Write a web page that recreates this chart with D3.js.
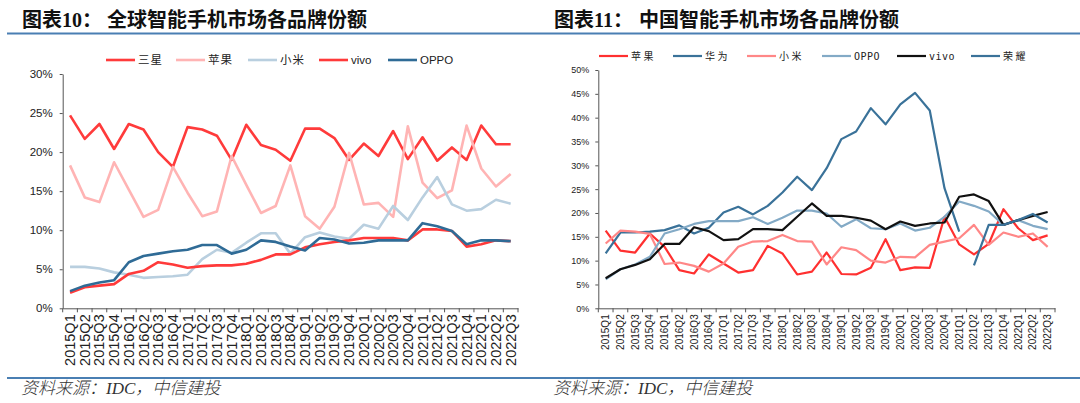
<!DOCTYPE html>
<html>
<head>
<meta charset="utf-8">
<script src="https://cdn.jsdelivr.net/npm/d3@7/dist/d3.min.js"></script>
<style>
  body { margin:0; background:#fff; }
  svg { display:block; }
</style>
</head>
<body>
<svg id="chart"></svg>
<script>
// quarters shared by both charts
var quarters = ["2015Q1","2015Q2","2015Q3","2015Q4","2016Q1","2016Q2","2016Q3","2016Q4",
  "2017Q1","2017Q2","2017Q3","2017Q4","2018Q1","2018Q2","2018Q3","2018Q4",
  "2019Q1","2019Q2","2019Q3","2019Q4","2020Q1","2020Q2","2020Q3","2020Q4",
  "2021Q1","2021Q2","2021Q3","2021Q4","2022Q1","2022Q2","2022Q3"];

// global share (%)
var gSamsung = [24.7,21.7,23.6,20.4,23.6,22.9,20.0,18.1,23.2,22.9,22.1,19.0,23.5,20.9,20.3,18.9,
  23.0,23.0,21.8,19.0,21.1,19.5,22.7,19.1,21.9,18.9,20.6,19.0,23.4,21.0,21.0];
var gApple = [18.3,14.2,13.6,18.7,15.2,11.7,12.6,18.1,14.8,11.8,12.4,19.5,15.8,12.2,13.1,18.3,
  11.8,10.2,13.0,19.9,13.3,13.5,11.7,23.3,16.1,14.1,15.1,23.4,17.9,15.6,17.2];
var gXiaomi = [5.3,5.3,5.1,4.6,4.3,3.9,4.0,4.1,4.3,6.3,7.5,7.1,8.4,9.6,9.6,7.0,
  9.1,9.7,9.2,8.9,10.7,10.2,13.1,11.3,14.2,16.8,13.3,12.5,12.7,13.9,13.4];
var gVivo = [2.0,2.7,2.9,3.1,4.4,4.8,5.9,5.6,5.2,5.4,5.5,5.5,5.7,6.2,6.9,6.9,
  7.8,8.2,8.5,8.7,9.0,9.0,9.0,8.7,10.1,10.1,9.9,7.9,8.2,8.7,8.6];
var gOppo = [2.2,2.9,3.3,3.6,5.9,6.7,7.0,7.3,7.5,8.1,8.1,7.0,7.5,8.7,8.5,7.9,
  7.4,9.0,8.8,8.3,8.4,8.7,8.7,8.7,10.9,10.5,9.9,8.2,8.7,8.7,8.6];

// China share (%)
var cApple = [16.3,12.1,11.7,15.7,12.9,8.0,7.3,11.3,9.4,7.5,8.0,13.1,11.5,7.1,7.7,11.7,
  7.2,7.1,8.5,14.5,8.0,8.6,8.5,19.2,13.4,11.3,13.5,20.8,16.8,14.3,15.3];
var cHuawei = [11.5,15.9,15.9,16.1,16.4,17.4,15.7,16.9,20.1,21.3,19.7,21.5,24.3,27.6,24.8,29.4,
  35.5,37.1,42.0,38.6,42.8,45.2,41.5,25.2,16.1,null,null,null,null,null,null];
var cXiaomi = [13.6,16.3,16.1,15.6,9.3,9.6,8.9,7.7,9.4,12.9,14.0,14.1,15.4,14.1,14.0,9.2,
  12.8,12.2,10.0,9.6,10.8,10.7,13.3,14.0,14.7,17.5,13.3,15.9,15.0,15.7,12.9];
var cOppo = [6.1,8.2,9.2,10.8,15.7,16.6,17.7,18.3,18.3,18.3,19.1,17.7,19.0,20.5,20.5,19.9,
  17.1,18.7,16.8,16.6,17.8,16.3,16.9,19.2,22.4,21.5,20.3,17.5,18.5,17.3,16.6];
var cVivo = [6.3,8.2,9.1,10.3,13.5,13.5,17.0,16.2,14.3,14.5,16.6,16.6,16.4,19.2,22.0,19.4,
  19.4,19.0,18.4,16.6,18.2,17.3,17.8,18.0,23.4,23.9,22.5,17.5,18.5,19.4,20.2];
var cHonor = [null,null,null,null,null,null,null,null,null,null,null,null,null,null,null,null,
  null,null,null,null,null,null,null,null,null,9.0,17.5,17.5,18.5,19.8,18.0];

var leftTicks = [0,5,10,15,20,25,30];
var rightTicks = [0,5,10,15,20,25,30,35,40,45,50];

var svg = d3.select("#chart").attr("width",1080).attr("height",403);

var drawPanel = function(p)
{
    var xScale = d3.scaleBand()
        .domain(quarters)
        .range([p.left,p.right])
        .padding(0);
    var yScale = d3.scaleLinear()
        .domain([0,p.max])
        .range([p.bottom,p.top]);

    var g = svg.append("g");

    // x axis: labels at band centers, ticks at band edges
    var xAxis = d3.axisBottom(xScale).tickSize(0).tickSizeOuter(0);
    var xa = g.append("g")
        .attr("transform","translate(0,"+p.bottom+")")
        .call(xAxis);
    xa.select(".domain").attr("stroke","#555").attr("stroke-width",1);
    xa.selectAll(".tick text")
        .attr("transform","rotate(-90)")
        .attr("text-anchor","end")
        .attr("x",-6)
        .attr("y",0)
        .attr("dy","0.35em")
        .attr("font-size",p.xFont)
        .attr("font-family","Liberation Sans, Arial, sans-serif")
        .attr("fill","#222");
    var edges = quarters.map(function(q){ return xScale(q); }).concat([p.right]);
    g.selectAll("line.xt").data(edges).enter().append("line")
        .attr("x1",function(d){return d;}).attr("x2",function(d){return d;})
        .attr("y1",p.bottom).attr("y2",p.bottom+4)
        .attr("stroke","#555");

    var yAxis = d3.axisLeft(yScale)
        .tickValues(p.ticks)
        .tickFormat(function(d){ return d+"%"; })
        .tickSize(3).tickSizeOuter(0).tickPadding(p.yPad);
    var ya = g.append("g")
        .attr("transform","translate("+p.left+",0)")
        .call(yAxis);
    ya.select(".domain").attr("stroke","#555");
    ya.selectAll(".tick line").attr("stroke","#555");
    ya.selectAll(".tick text")
        .attr("font-size",p.yFont)
        .attr("font-family","Liberation Sans, Arial, sans-serif")
        .attr("fill","#222");

    var lineGen = d3.line()
        .defined(function(d){ return d != null; })
        .x(function(d,i){ return xScale(quarters[i]) + xScale.bandwidth()/2; })
        .y(function(d){ return yScale(d); });

    p.series.forEach(function(s)
    {
        g.append("path")
            .datum(s.values)
            .attr("fill","none")
            .attr("stroke",s.color)
            .attr("stroke-width",p.lineW)
            .attr("stroke-linejoin","round")
            .attr("d",lineGen);
    });

    // legend
    var leg = g.append("g");
    p.series.forEach(function(s,i)
    {
        var lx = p.legendX[i];
        leg.append("line")
            .attr("x1",lx).attr("x2",lx+p.legendLen)
            .attr("y1",p.legendY).attr("y2",p.legendY)
            .attr("stroke",s.color).attr("stroke-width",p.lineW);
        leg.append("text")
            .text(s.name)
            .attr("x",lx+p.legendLen+3)
            .attr("y",p.legendY)
            .attr("dy","0.35em")
            .attr("font-size",p.legFont)
            .attr("letter-spacing",/[a-zA-Z]/.test(s.name) ? p.legSpLat : p.legSpCjk)
            .attr("font-family",p.legFamily)
            .attr("fill","#222");
    });

    // title, rules, source
    var t = g.append("text")
        .attr("y",27)
        .attr("font-size",20)
        .attr("font-weight","bold")
        .attr("fill","#111");
    t.append("tspan").attr("x",p.titleX).attr("font-family","Noto Sans CJK SC").text("图表");
    t.append("tspan").attr("font-family","Liberation Serif, serif").text(p.num);
    t.append("tspan").attr("font-family","Noto Sans CJK SC").text("：");
    t.append("tspan").attr("x",p.titleX+85).attr("font-family","Noto Sans CJK SC").text(p.title);

    g.append("line").attr("x1",p.ruleL).attr("x2",p.ruleR).attr("y1",33.5).attr("y2",33.5)
        .attr("stroke","#4a7fb3").attr("stroke-width",2);
    g.append("line").attr("x1",p.ruleL).attr("x2",p.ruleR).attr("y1",378).attr("y2",378)
        .attr("stroke","#4a7fb3").attr("stroke-width",2);

    var src = g.append("text")
        .attr("x",p.titleX-1).attr("y",394)
        .attr("font-size",17)
        .attr("font-style","italic")
        .attr("fill","#333");
    src.append("tspan").attr("font-family","Noto Sans CJK SC").attr("font-weight",300).text("资料来源：");
    src.append("tspan").attr("font-family","Liberation Serif, serif").text("IDC");
    src.append("tspan").attr("font-family","Noto Sans CJK SC").attr("font-weight",300).text("，中信建投");
};

drawPanel({
    left:62.7, right:518, top:74, bottom:308.3, max:30,
    ticks:leftTicks, xFont:14.5, yFont:11.5, yPad:7, lineW:2.6,
    series:[
        {name:"三星", values:gSamsung, color:"#ff3b3b"},
        {name:"苹果", values:gApple, color:"#ffb4b4"},
        {name:"小米", values:gXiaomi, color:"#b9cfdf"},
        {name:"vivo", values:gVivo, color:"#ff3a3a"},
        {name:"OPPO", values:gOppo, color:"#2f6b96"}
    ],
    legendX:[106,176,248,319,388], legendLen:29, legendY:60,
    legFont:11.5, legSpLat:0, legSpCjk:1, legFamily:"Liberation Sans, Noto Sans CJK SC",
    titleX:22, num:"10", title:"全球智能手机市场各品牌份额", ruleL:7, ruleR:540
});

drawPanel({
    left:598.3, right:1055, top:70, bottom:308.3, max:50,
    ticks:rightTicks, xFont:10, yFont:9, yPad:6, lineW:2.2,
    series:[
        {name:"苹果", values:cApple, color:"#ff3030"},
        {name:"华为", values:cHuawei, color:"#3a7299"},
        {name:"小米", values:cXiaomi, color:"#ff8787"},
        {name:"OPPO", values:cOppo, color:"#83aac6"},
        {name:"vivo", values:cVivo, color:"#111111"},
        {name:"荣耀", values:cHonor, color:"#3a7299"}
    ],
    legendX:[599,673,747,822,897,971], legendLen:29, legendY:56,
    legFont:10, legSpLat:0.5, legSpCjk:2.5, legFamily:"DejaVu Sans Mono, Noto Sans CJK SC",
    titleX:554, num:"11", title:"中国智能手机市场各品牌份额", ruleL:540, ruleR:1080
});
</script>
</body>
</html>
